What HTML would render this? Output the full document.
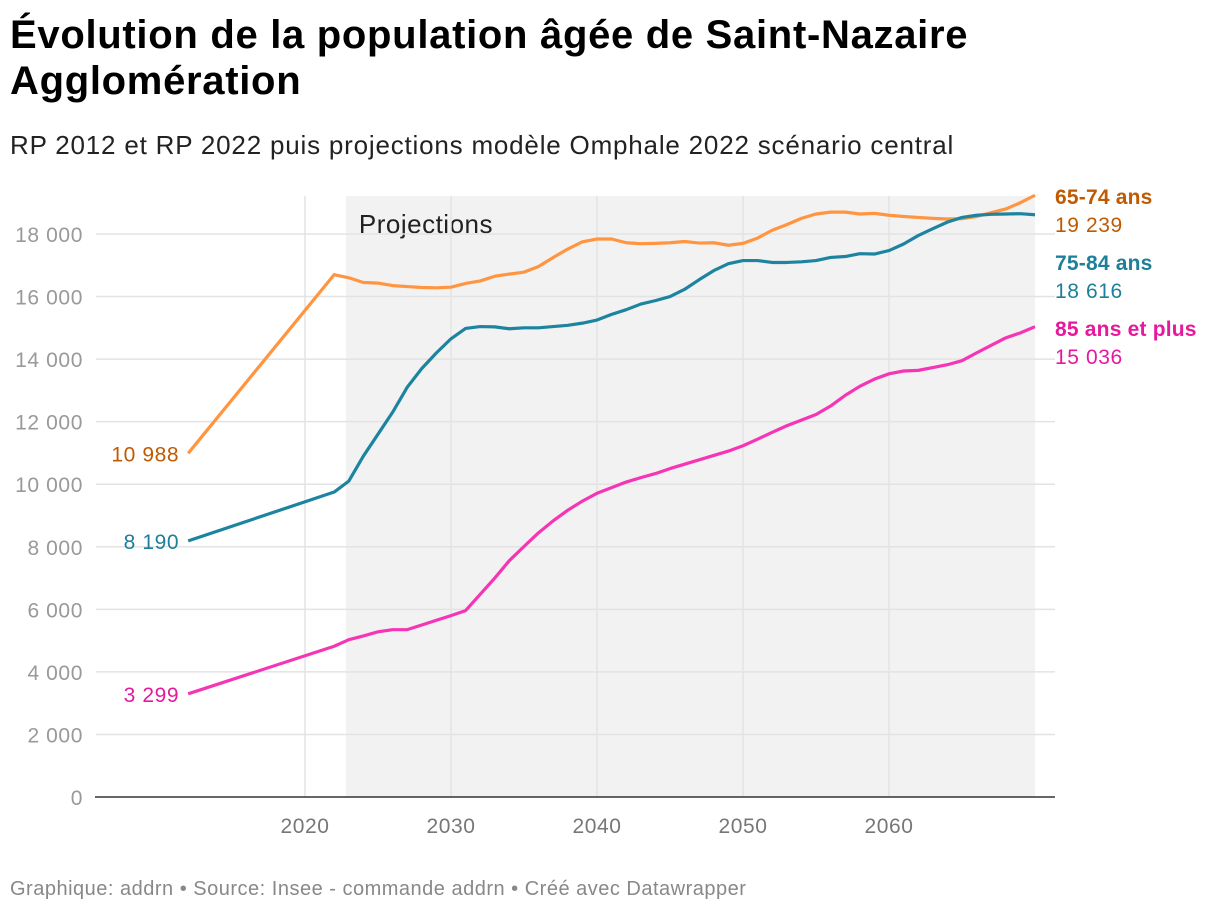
<!DOCTYPE html>
<html><head><meta charset="utf-8"><style>
body{margin:0;background:#fff;font-family:"Liberation Sans",sans-serif;}
#wrap{position:relative;width:1220px;height:914px;overflow:hidden}
h1{position:absolute;left:10px;top:12px;margin:0;font-size:40px;line-height:46px;font-weight:bold;color:#000;letter-spacing:0.7px}
.sub{position:absolute;left:10px;top:130px;font-size:26px;color:#222;letter-spacing:0.8px}
.foot{position:absolute;left:10px;top:878px;font-size:20px;color:#888;letter-spacing:0.5px}
</style></head><body>
<div id="wrap">
<h1>Évolution de la population âgée de Saint-Nazaire<br>Agglomération</h1>
<div class="sub">RP 2012 et RP 2022 puis projections modèle Omphale 2022 scénario central</div>
<svg id="chart" width="1220" height="914" style="position:absolute;left:0;top:0"></svg>
<div class="foot">Graphique: addrn • Source: Insee - commande addrn • Créé avec Datawrapper</div>
</div>
<script>
const years=[2012,2022,2023,2024,2025,2026,2027,2028,2029,2030,2031,2032,2033,2034,2035,2036,2037,2038,2039,2040,2041,2042,2043,2044,2045,2046,2047,2048,2049,2050,2051,2052,2053,2054,2055,2056,2057,2058,2059,2060,2061,2062,2063,2064,2065,2066,2067,2068,2069,2070];
const age6574=[10988,16700,16600,16450,16430,16350,16320,16290,16280,16300,16420,16500,16650,16720,16780,16960,17250,17520,17750,17840,17840,17720,17690,17700,17720,17760,17710,17720,17640,17700,17870,18120,18300,18500,18640,18700,18700,18640,18660,18600,18560,18530,18500,18480,18490,18560,18680,18800,19000,19239];
const age7584=[8190,9750,10100,10900,11600,12300,13100,13700,14200,14650,14980,15040,15030,14970,15000,15000,15040,15080,15150,15250,15430,15580,15760,15870,16000,16230,16540,16830,17050,17150,17150,17090,17090,17110,17150,17250,17280,17370,17360,17470,17680,17950,18170,18380,18530,18600,18630,18640,18650,18616];
const age85=[3299,4820,5030,5150,5280,5350,5350,5500,5650,5800,5960,6480,7000,7560,8010,8450,8830,9170,9460,9710,9890,10070,10210,10340,10500,10640,10780,10920,11060,11230,11440,11660,11870,12050,12230,12500,12840,13130,13360,13530,13620,13640,13730,13820,13950,14200,14440,14680,14840,15036];
const yTicks=[0,2000,4000,6000,8000,10000,12000,14000,16000,18000];
const xTicks=[2020,2030,2040,2050,2060];
const projStart=2022.8, projEnd=2070;

const NS="http://www.w3.org/2000/svg";
const svg=document.getElementById('chart');
const X=y=>305+(y-2020)*14.6;
const Y=v=>797-v*(563/18000);
const fmt=v=>{const s=String(v);return s.length>3?s.slice(0,-3)+' '+s.slice(-3):s;};
function mk(t,a,p){const e=document.createElementNS(NS,t);for(const k in a)e.setAttribute(k,a[k]);(p||svg).appendChild(e);return e;}

const shade=mk('rect',{x:X(projStart),y:196,width:X(projEnd)-X(projStart),height:601,fill:'#f2f2f2'});


const pl=mk('text',{x:X(projStart)+13,y:233,'font-size':26,fill:'#222','letter-spacing':0.5});pl.textContent='Projections';



yTicks.forEach(v=>{
  if(v>0){const g=mk('line',{x1:96,x2:1055,y1:Y(v),y2:Y(v),stroke:'#e3e3e3','stroke-width':1.5});
  
  }
  const t=mk('text',{x:83,y:Y(v)+8,'text-anchor':'end','font-size':21,fill:'#999','letter-spacing':0.6});t.textContent=fmt(v);
  
  
});
xTicks.forEach(yr=>{
  const g=mk('line',{x1:X(yr),x2:X(yr),y1:196,y2:797,stroke:'#e3e3e3','stroke-width':1.5});
  
  
  const t=mk('text',{x:X(yr),y:833,'text-anchor':'middle','font-size':21,fill:'#777','letter-spacing':0.6});t.textContent=yr;
  
  
});
const ax=mk('line',{x1:95,x2:1055,y1:797,y2:797,stroke:'#333','stroke-width':1.5});



const series=[
 {d:age6574,c:'#ff9540',tc:'#c05a00',name:'65-74 ans',ly:196,id:'65-74'},
 {d:age7584,c:'#1d84a0',tc:'#1d7f99',name:'75-84 ans',ly:262,id:'75-84'},
 {d:age85,c:'#f535b5',tc:'#e6189e',name:'85 ans et plus',ly:328,id:'85-plus'}];
series.forEach(s=>{
  const p=mk('polyline',{points:s.d.map((v,i)=>X(years[i])+','+Y(v)).join(' '),fill:'none',stroke:s.c,'stroke-width':3.2,'stroke-linejoin':'round'});
  
  
  const st=mk('text',{x:X(years[0])-9,y:Y(s.d[0])+8,'text-anchor':'end','font-size':21,fill:s.tc,'letter-spacing':0.6});st.textContent=fmt(s.d[0]);
  
  
  const n=mk('text',{x:1055,y:s.ly+8,'font-size':21,'font-weight':'bold',fill:s.tc,'letter-spacing':0.2});n.textContent=s.name;
  
  
  const ev=mk('text',{x:1055,y:s.ly+36,'font-size':21,fill:s.tc,'letter-spacing':0.6});ev.textContent=fmt(s.d[s.d.length-1]);
  
  
});
</script>
</body></html>
